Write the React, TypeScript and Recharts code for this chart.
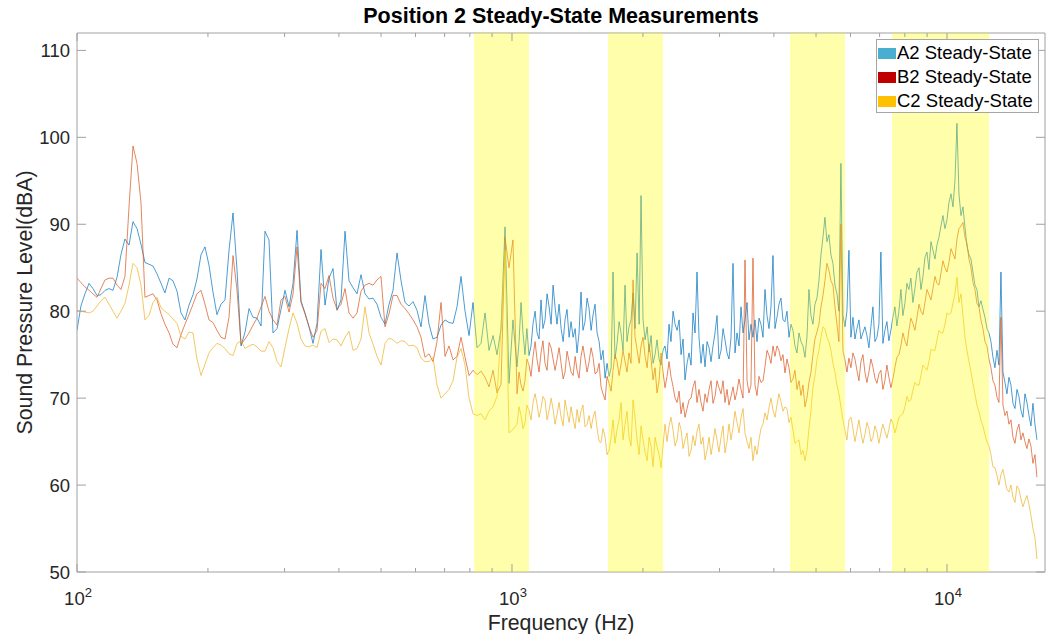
import React from "react";
import { LineChart, Line, XAxis, YAxis, ReferenceArea } from "recharts";

// main frequency grid (Hz)
const freqHz = [
  100, 102.1, 104.3, 106.6, 108.8, 111.2, 113.5, 116.0, 118.5, 121.0,
  123.6, 126.2, 128.9, 131.7, 134.5, 137.4, 140.3, 143.3, 146.4, 149.5,
  152.7, 156.0, 159.3, 162.8, 166.2, 169.8, 173.4, 177.1, 180.9, 184.8,
  188.7, 192.8, 196.9, 201.1, 205.4, 209.8, 214.3, 218.9, 223.6, 228.4,
  233.3, 238.3, 243.4, 248.6, 253.9, 259.3, 264.9, 270.5, 276.3, 282.2,
  288.3, 294.4, 300.7, 307.2, 313.8, 320.5, 327.3, 334.3, 341.5, 348.8,
  356.3, 363.9, 371.7, 379.6, 387.8, 396.1, 404.5, 413.2, 422.0, 431.1,
  440.3, 449.7, 459.3, 469.2, 479.2, 489.5, 499.9, 510.6, 521.6, 532.7,
  544.1, 555.8, 567.6, 579.8, 592.2, 604.9, 617.8, 631.0, 644.5, 658.3,
  672.4, 686.8, 701.5, 716.5, 731.9, 747.5, 763.5, 779.9, 796.6, 813.6,
  831.0, 848.8, 867.0, 885.5, 904.5, 923.8, 943.6, 963.8, 984.4, 1005,
  1027, 1049, 1071, 1094, 1118, 1142, 1166, 1191, 1217, 1243,
  1269, 1297, 1324, 1353, 1382, 1411, 1441, 1472, 1504, 1536,
  1569, 1602, 1637, 1672, 1707, 1744, 1781, 1819, 1858, 1898,
  1939, 1980, 2023, 2066, 2110, 2155, 2201, 2248, 2296, 2346,
  2396, 2447, 2499, 2553, 2607, 2663, 2720, 2778, 2838, 2898,
  2960, 3024, 3088, 3154, 3222, 3291, 3361, 3433, 3506, 3581,
  3658, 3736, 3816, 3898, 3981, 4066, 4153, 4242, 4333, 4425,
  4520, 4617, 4715, 4816, 4919, 5024, 5132, 5241, 5353, 5468,
  5585, 5704, 5826, 5951, 6078, 6208, 6341, 6476, 6615, 6756,
  6901, 7048, 7199, 7353, 7510, 7671, 7835, 8003, 8174, 8349,
  8532, 8713, 8899, 9090, 9284, 9483, 9686, 9893, 10105, 10321,
  10542, 10768, 10998, 11233, 11473, 11719, 11970, 12226, 12487, 12755,
  13028, 13306, 13591, 13882, 14179, 14482, 14792, 15108, 15432, 15762,
  16099,
];

const levelA2 = [
  77.8, 80.6, 82.0, 83.2, 82.6, 81.8, 81.9, 82.4, 82.6, 82.4,
  83.9, 86.5, 88.3, 87.6, 90.3, 89.5, 87.7, 85.6, 85.4, 85.2,
  84.3, 83.2, 82.1, 83.8, 83.5, 82.3, 79.8, 79.0, 80.7, 81.9,
  83.7, 86.5, 87.4, 85.3, 82.2, 79.6, 80.8, 81.3, 87.0, 91.3,
  84.7, 76.0, 77.6, 80.3, 79.3, 79.2, 78.3, 89.2, 88.2, 77.5,
  78.0, 80.2, 82.4, 80.5, 83.2, 89.3, 81.2, 79.8, 78.2, 76.3,
  78.6, 87.1, 80.7, 83.8, 84.9, 80.1, 81.3, 89.2, 83.5, 82.7,
  82.0, 84.2, 82.0, 81.4, 81.5, 80.8, 79.3, 78.5, 80.8, 82.4,
  86.7, 83.5, 81.0, 80.6, 81.1, 80.1, 78.2, 81.8, 78.5, 76.8,
  77.0, 78.4, 79.0, 78.7, 78.6, 80.5, 84.0, 80.0, 77.2, 81.0,
  75.8, 76.3, 79.8, 75.5, 77.2, 75.0, 78.0, 89.7, 71.7, 79.0,
  73.6, 81.0, 75.0, 74.9, 78.6, 77.5, 81.3, 79.0, 80.5, 83.0,
  78.5, 78.0, 79.0, 77.0, 77.0, 75.2, 82.2, 78.8, 80.3, 79.6,
  77.5, 74.4, 72.3, 72.5, 84.5, 76.3, 77.5, 83.0, 78.2, 82.1,
  86.7, 93.3, 76.7, 75.3, 74.0, 76.7, 73.8, 76.0, 78.5, 80.0,
  77.8, 75.0, 72.1, 75.2, 79.8, 84.5, 74.0, 73.6, 75.8, 76.0,
  79.5, 75.5, 76.7, 74.5, 85.5, 77.5, 80.5, 79.0, 76.7, 77.0,
  76.5, 78.5, 82.5, 78.0, 86.4, 79.3, 81.5, 78.8, 77.0, 77.8,
  75.2, 76.5, 74.7, 82.5, 78.5, 81.5, 86.5, 90.8, 88.8, 85.5,
  82.0, 97.0, 78.2, 87.0, 79.3, 78.0, 76.8, 78.2, 75.8, 80.5,
  77.0, 86.8, 77.8, 76.6, 79.3, 78.3, 82.5, 80.9, 82.5, 81.0,
  84.5, 82.5, 86.2, 84.8, 87.0, 87.6, 89.8, 89.5, 92.5, 92.0,
  101.6, 91.0, 89.7, 86.5, 84.5, 82.5, 81.2, 79.3, 77.5, 74.7,
  75.5, 84.5, 71.8, 72.4, 69.4, 71.0, 68.6, 70.5, 68.0, 69.4,
  65.2,
];

const levelB2 = [
  83.8, 83.3, 82.8, 82.4, 82.0, 81.6, 82.6, 83.6, 83.8, 83.8,
  83.0, 82.5, 84.0, 92.0, 99.0, 97.0, 92.5, 81.6, 81.8, 82.0,
  81.3, 79.7, 78.5, 77.5, 76.2, 75.8, 77.3, 78.5, 79.6, 80.8,
  82.0, 82.4, 80.8, 79.0, 78.7, 77.8, 77.0, 76.8, 79.3, 86.4,
  82.4, 76.2, 76.8, 77.5, 78.4, 79.2, 80.5, 81.7, 80.0, 79.0,
  78.4, 81.3, 81.7, 79.9, 82.0, 87.4, 81.0, 79.7, 78.2, 77.0,
  77.8, 83.2, 82.6, 84.1, 81.5, 80.2, 80.8, 82.6, 79.8, 79.2,
  79.8, 82.3, 83.0, 83.2, 83.0, 83.6, 84.0, 78.2, 79.7, 81.8,
  81.8, 80.8, 80.3, 79.7, 79.0, 78.2, 77.0, 74.7, 75.1, 74.2,
  76.5, 81.0, 74.8, 76.0, 74.4, 74.8, 77.0, 74.7, 72.6, 73.2,
  72.7, 73.1, 72.4, 71.3, 73.2, 70.6, 71.6, 88.5, 85.0, 88.2,
  70.5, 71.5, 72.0, 73.8, 74.8, 74.4, 75.2, 74.0, 76.4, 74.5,
  74.4, 74.0, 73.0, 74.2, 72.6, 73.2, 74.8, 74.5, 74.2, 74.7,
  73.0, 71.3, 69.8, 71.7, 73.2, 74.2, 73.9, 74.2, 75.2, 83.6,
  75.6, 76.0, 74.8, 76.2, 72.1, 70.6, 75.2, 71.2, 74.2, 71.3,
  69.5, 68.2, 67.8, 69.8, 71.3, 69.5, 69.5, 70.5, 71.0, 69.4,
  72.0, 70.5, 69.5, 69.2, 71.3, 70.8, 71.0, 85.9, 70.6, 86.1,
  70.3, 71.8, 73.6, 74.9, 76.0, 76.0, 74.3, 72.9, 73.5, 72.2,
  71.0, 70.3, 69.0, 71.8, 75.0, 77.6, 80.5, 83.5, 84.7, 83.0,
  78.5, 90.0, 74.4, 74.6, 75.2, 73.2, 74.2, 73.0, 73.0, 73.6,
  71.7, 73.2, 72.0, 72.4, 72.2, 74.7, 76.0, 76.6, 77.8, 78.6,
  79.3, 80.0, 81.0, 81.9, 82.6, 83.2, 84.4, 85.0, 85.6, 86.6,
  88.3, 89.8, 88.5, 86.0, 83.3, 80.9, 79.0, 76.5, 74.5, 72.0,
  70.1, 79.3, 68.0, 67.0, 65.5, 66.3, 65.2, 65.0, 65.3, 62.5,
  60.9,
];

const levelC2 = [
  80.1, 80.0, 79.9, 79.8, 80.0, 80.6, 81.2, 81.6, 80.8, 80.0,
  79.2, 80.0, 80.9, 83.0, 85.5, 85.0, 83.0, 79.0, 79.5, 81.0,
  81.6, 80.4, 80.0, 79.6, 79.1, 78.6, 77.1, 76.8, 77.6, 77.5,
  74.5, 72.6, 73.9, 75.2, 75.8, 76.3, 76.1, 75.7, 75.1, 74.9,
  76.3, 76.6, 75.7, 76.0, 76.2, 75.9, 75.4, 75.4, 76.5, 75.8,
  74.2, 73.6, 75.8, 78.0, 79.8, 78.6, 76.8, 76.0, 75.9, 76.1,
  75.8, 77.7, 78.0, 76.4, 76.8, 76.7, 76.0, 77.0, 77.7, 75.5,
  75.7, 76.8, 80.5, 77.5, 76.2, 74.8, 73.8, 76.3, 76.9, 76.7,
  76.3, 76.6, 76.5, 76.0, 76.1, 75.8, 74.6, 74.2, 74.2, 74.7,
  71.5, 70.0, 70.5, 71.0, 72.0, 74.7, 75.7, 73.8, 70.0, 68.2,
  68.0, 68.2, 67.5, 68.5, 69.0, 70.2, 78.0, 87.0, 66.0, 66.4,
  67.0, 68.0, 67.1, 68.6, 69.5, 69.3, 68.8, 69.8, 68.6, 68.7,
  68.1, 67.8, 69.8, 67.2, 67.6, 68.7, 68.5, 66.7, 68.0, 67.8,
  66.5, 64.9, 65.5, 64.0, 67.5, 66.4, 69.5, 67.0, 65.5, 69.8,
  65.2, 66.8, 63.8, 65.5, 62.1, 64.4, 62.0, 67.0, 66.8, 66.3,
  65.2, 66.4, 65.2, 63.3, 65.7, 66.2, 64.7, 62.9, 65.5, 64.8,
  65.2, 65.5, 63.7, 67.0, 66.6, 67.2, 67.8, 66.0, 64.2, 62.8,
  63.5, 66.5, 68.3, 68.9, 68.6, 69.2, 69.6, 69.0, 67.2, 66.3,
  65.0, 63.5, 62.8, 66.5, 71.3, 74.4, 77.0, 78.0, 76.5, 74.0,
  71.5, 69.0, 66.3, 67.5, 66.5, 66.2, 66.0, 65.8, 66.5, 65.5,
  66.1, 66.0, 66.2, 66.4, 67.1, 66.8, 68.0, 69.0, 69.6, 70.9,
  71.5, 72.6, 73.5, 74.2, 75.5, 76.7, 77.5, 78.5, 79.6, 80.9,
  83.9, 82.0, 77.0, 74.2, 71.7, 69.2, 67.4, 65.8, 64.5, 62.1,
  61.1, 61.2, 60.6, 59.2, 58.6, 59.9, 58.4, 58.2, 57.8, 55.0,
  51.5,
];

// extra in-between readings above ~1 kHz, where the spectra are dense
const freqFine = [
  1038, 1060, 1082, 1106, 1130, 1154, 1178, 1204, 1230, 1256,
  1283, 1311, 1338, 1367, 1397, 1426, 1456, 1488, 1520, 1552,
  1586, 1619, 1654, 1690, 1725, 1763, 1800, 1838, 1878, 1918,
  1960, 2001, 2045, 2088, 2132, 2178, 2224, 2272, 2320, 2371,
  2422, 2473, 2526, 2580, 2635, 2691, 2749, 2808, 2868, 2929,
  2991, 3056, 3121, 3188, 3256, 3326, 3397, 3470, 3543, 3619,
  3697, 3776, 3857, 3939, 4023, 4109, 4197, 4287, 4379, 4472,
  4568, 4666, 4765, 4867, 4971, 5077, 5187, 5297, 5410, 5526,
  5644, 5765, 5888, 6014, 6143, 6274, 6408, 6545, 6685, 6828,
  6974, 7123, 7276, 7431, 7590, 7753, 7918, 8088, 8261, 8438,
  8623, 8806, 8994, 9187, 9383, 9584, 9789, 9998, 10213, 10431,
  10654, 10883, 11115, 11353, 11595, 11844, 12097, 12356, 12620, 12891,
  13167, 13448, 13736, 14030, 14330, 14636, 14949, 15269, 15596, 15930,
];

const fineA2 = [
  76.5, 77.5, 78.0, 76.0, 80.0, 76.8, 78.0, 82.0, 78.5, 80.5,
  80.8, 76.5, 80.2, 78.8, 78.0, 77.5, 77.8, 81.5, 77.8, 80.8,
  76.5, 75.5, 74.0, 73.5, 74.5, 78.8, 75.5, 76.5, 79.0, 78.0,
  78.5, 79.0, 78.2, 77.2, 75.0, 74.5, 75.5, 74.5, 76.5, 78.5,
  79.0, 76.8, 74.0, 73.8, 77.5, 77.0, 76.2, 76.5, 74.2, 77.5,
  74.5, 78.0, 75.2, 77.0, 75.2, 76.0, 77.5, 81.0, 78.5, 79.0,
  79.2, 77.0, 79.5, 80.5, 78.0, 80.8, 79.0, 80.0, 78.5, 76.0,
  77.5, 76.0, 77.0, 79.5, 80.8, 83.5, 88.5, 88.0, 86.5, 83.0,
  80.0, 79.5, 80.0, 77.0, 76.8, 79.0, 77.5, 77.2, 78.2, 76.5,
  78.5, 76.3, 78.8, 77.8, 80.5, 80.0, 79.5, 83.2, 83.8, 82.6,
  85.0, 84.0, 86.8, 88.0, 86.0, 88.5, 91.0, 90.5, 93.5, 95.0,
  93.5, 92.0, 87.5, 86.0, 83.0, 80.5, 80.2, 78.0, 76.5, 73.5,
  73.8, 73.0, 70.5, 71.5, 68.8, 70.2, 67.8, 69.5, 66.8, 67.0,
];

const fineB2 = [
  73.0, 70.8, 74.5, 72.5, 76.5, 73.0, 76.6, 73.2, 75.8, 73.2,
  75.8, 72.2, 75.4, 73.0, 74.8, 72.3, 76.0, 73.0, 75.8, 72.8,
  74.0, 70.5, 72.5, 70.8, 75.0, 72.6, 75.5, 73.0, 74.0, 77.0,
  74.0, 77.0, 73.5, 74.5, 73.5, 72.0, 73.0, 72.5, 72.5, 70.0,
  70.8, 69.5, 68.8, 70.0, 72.0, 71.0, 68.5, 69.5, 72.0, 70.2,
  71.2, 72.0, 71.0, 70.2, 69.8, 72.2, 70.0, 72.0, 71.5, 71.5,
  72.5, 72.0, 75.5, 74.0, 74.8, 75.5, 75.0, 74.5, 71.8, 73.2,
  72.0, 71.5, 70.0, 73.0, 76.8, 78.5, 81.8, 85.5, 83.5, 80.5,
  76.5, 75.5, 73.0, 73.5, 74.5, 72.0, 75.0, 71.8, 74.5, 72.3,
  72.8, 71.0, 73.8, 71.2, 73.5, 75.0, 77.5, 76.0, 79.2, 77.8,
  80.8, 79.6, 82.5, 81.3, 84.0, 83.0, 85.8, 84.5, 87.2, 86.0,
  89.5, 90.2, 87.8, 85.0, 82.5, 80.5, 78.0, 76.0, 73.5, 71.5,
  69.5, 69.2, 68.5, 67.5, 64.8, 67.0, 66.0, 64.2, 64.5, 63.5,
];

const fineC2 = [
  69.0, 66.5, 69.2, 67.5, 70.5, 67.8, 70.2, 67.5, 70.0, 67.0,
  69.5, 66.8, 68.5, 69.0, 66.5, 67.2, 69.2, 67.0, 66.5, 68.5,
  65.0, 66.5, 63.5, 65.5, 64.8, 67.5, 65.2, 68.5, 64.5, 67.8,
  63.5, 65.2, 62.8, 64.5, 65.5, 63.5, 64.5, 65.0, 67.8, 64.5,
  67.2, 64.2, 66.0, 64.0, 64.5, 67.0, 65.5, 64.0, 63.5, 66.5,
  63.8, 66.8, 65.0, 65.2, 68.5, 66.0, 68.8, 65.0, 65.5, 64.5,
  65.2, 67.0, 67.5, 70.0, 67.8, 70.5, 68.5, 68.8, 67.8, 64.8,
  65.2, 64.0, 64.0, 68.5, 72.5, 75.5, 78.2, 77.0, 75.5, 73.0,
  70.5, 67.5, 65.2, 67.8, 65.0, 67.5, 64.8, 67.2, 65.0, 66.8,
  64.8, 67.0, 65.4, 67.6, 66.0, 67.8, 68.2, 70.2, 69.8, 71.8,
  71.5, 73.8, 73.2, 75.6, 75.5, 77.8, 77.5, 79.8, 79.8, 82.0,
  81.0, 79.5, 75.5, 73.0, 70.5, 68.5, 66.8, 65.0, 63.5, 62.0,
  60.0, 61.8, 59.5, 60.0, 58.0, 59.5, 57.5, 58.8, 56.5, 54.0,
];

const seriesNames = ["A2 Steady-State", "B2 Steady-State", "C2 Steady-State"];
const lineColors = ["#0072BD", "#D95319", "#EDB120"];
const legendColors = ["#4aaed0", "#c00000", "#ffc000"];

// highlighted frequency bands (Hz)
const bandStart = [818, 1662, 4356, 7474];
const bandEnd = [1094, 2224, 5829, 12495];

const yTicks = [50, 60, 70, 80, 90, 100, 110];
const xTicks = [
  100, 200, 300, 400, 500, 600, 700, 800, 900,
  1000, 2000, 3000, 4000, 5000, 6000, 7000, 8000, 9000,
  10000,
];

const FONT = "'Liberation Sans', Arial, Helvetica, sans-serif";
const AXIS = "#a0a0a0";
const TEXT = "#262626";

const isMajor = (v: number) => v === 100 || v === 1000 || v === 10000;

function BottomTick(props: any) {
  const { x, y, payload } = props;
  const v = payload.value;
  const major = isMajor(v);
  return (
    <g>
      <line x1={x} x2={x} y1={y} y2={y - (major ? 8 : 4)} stroke={AXIS} />
      {major && (
        <text x={x + 1} y={y + 33} textAnchor="middle" fontSize={18.5} fill={TEXT} fontFamily={FONT}>
          10
          <tspan dy={-8} fontSize={13}>
            {Math.round(Math.log10(v))}
          </tspan>
        </text>
      )}
    </g>
  );
}

function TopTick(props: any) {
  const { x, y, payload } = props;
  const major = isMajor(payload.value);
  return <line x1={x} x2={x} y1={y} y2={y + (major ? 8 : 4)} stroke={AXIS} />;
}

function LeftTick(props: any) {
  const { x, y, payload } = props;
  return (
    <g>
      <line x1={x} x2={x + 9} y1={y} y2={y} stroke={AXIS} />
      <text x={x - 7} y={y} dy="0.36em" textAnchor="end" fontSize={18.5} fill={TEXT} fontFamily={FONT}>
        {payload.value}
      </text>
    </g>
  );
}

function RightTick(props: any) {
  const { x, y } = props;
  return <line x1={x} x2={x - 9} y1={y} y2={y} stroke={AXIS} />;
}

export default function App() {
  const coarse = freqHz.map((f, i) => ({ f, a2: levelA2[i], b2: levelB2[i], c2: levelC2[i] }));
  const fine = freqFine.map((f, i) => ({ f, a2: fineA2[i], b2: fineB2[i], c2: fineC2[i] }));
  const data = [...coarse, ...fine].sort((p, q) => p.f - q.f);
  const keys = ["a2", "b2", "c2"];

  return (
    <div
      style={{
        position: "absolute",
        left: 0,
        top: 0,
        width: 1051,
        height: 634,
        background: "#fff",
        fontFamily: FONT,
        overflow: "hidden",
      }}
    >
      <div
        style={{
          position: "absolute",
          left: 77,
          width: 968,
          top: 4,
          textAlign: "center",
          fontSize: 21.5,
          fontWeight: "bold",
          lineHeight: "24px",
          color: "#000",
        }}
      >
        Position 2 Steady-State Measurements
      </div>

      <LineChart width={1051} height={634} data={data} margin={{ top: 32, right: 5, bottom: 61, left: 76 }}>
        <XAxis
          dataKey="f"
          type="number"
          scale="log"
          domain={[100, 16800]}
          ticks={xTicks}
          allowDataOverflow
          height={1}
          tickSize={0}
          tickMargin={0}
          tickLine={false}
          axisLine={{ stroke: AXIS }}
          tick={BottomTick}
          interval={0}
          label={{
            value: "Frequency (Hz)",
            position: "center",
            dy: 50,
            fontSize: 21.3,
            fill: TEXT,
            fontFamily: FONT,
          }}
        />
        <XAxis
          xAxisId="top"
          orientation="top"
          dataKey="f"
          type="number"
          scale="log"
          domain={[100, 16800]}
          ticks={xTicks}
          allowDataOverflow
          height={1}
          tickSize={0}
          tickMargin={0}
          tickLine={false}
          axisLine={{ stroke: AXIS }}
          tick={TopTick}
          interval={0}
        />
        <YAxis
          type="number"
          domain={[50, 112]}
          ticks={yTicks}
          allowDataOverflow
          width={1}
          tickSize={0}
          tickMargin={0}
          tickLine={false}
          axisLine={{ stroke: AXIS }}
          tick={LeftTick}
          interval={0}
          label={{
            value: "Sound Pressure Level(dBA)",
            angle: -90,
            position: "center",
            dx: -52,
            fontSize: 21.3,
            fill: TEXT,
            fontFamily: FONT,
          }}
        />
        <YAxis
          yAxisId="right"
          orientation="right"
          type="number"
          domain={[50, 112]}
          ticks={yTicks}
          allowDataOverflow
          width={1}
          tickSize={0}
          tickMargin={0}
          tickLine={false}
          axisLine={{ stroke: AXIS }}
          tick={RightTick}
          interval={0}
        />
        {keys.map((k, i) => (
          <Line
            key={k}
            dataKey={k}
            name={seriesNames[i]}
            type="linear"
            stroke={lineColors[i]}
            strokeWidth={1}
            strokeOpacity={0.7}
            dot={false}
            activeDot={false}
            isAnimationActive={false}
          />
        ))}
        {bandStart.map((s, i) => (
          <ReferenceArea
            key={"band" + i}
            x1={s}
            x2={bandEnd[i]}
            y1={50}
            y2={112}
            fill="#ffff00"
            fillOpacity={0.33}
            stroke="none"
            ifOverflow="hidden"
            {...({ zIndex: 700 } as any)}
          />
        ))}
      </LineChart>

      <div
        style={{
          position: "absolute",
          left: 876,
          top: 39,
          width: 163,
          height: 74,
          border: "1px solid #a6a6a6",
          background: "#fff",
          boxSizing: "border-box",
          paddingTop: 1,
        }}
      >
        {seriesNames.map((name, i) => (
          <div
            key={name}
            style={{ display: "flex", alignItems: "center", height: 24.3, fontSize: 18.5, color: "#000", lineHeight: 1 }}
          >
            <span style={{ display: "inline-block", width: 18, height: 11, background: legendColors[i], marginLeft: 1 }} />
            <span style={{ marginLeft: 1, whiteSpace: "nowrap" }}>{name}</span>
          </div>
        ))}
      </div>
    </div>
  );
}
